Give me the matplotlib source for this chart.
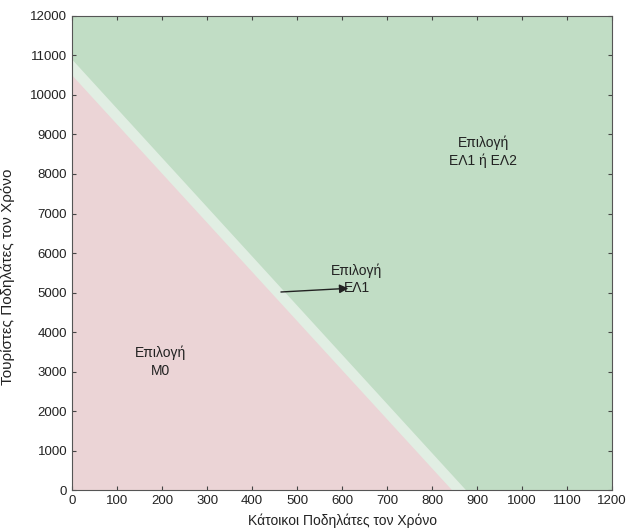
import matplotlib.pyplot as plt
import numpy as np

plt.rcParams['font.family'] = ['Liberation Sans', 'DejaVu Sans']

# boundary lines (x, y) end points
red_x = [0, 844]
red_y = [10500, 0]
green_x = [0, 875]
green_y = [10900, 0]

x_ticks = [0, 100, 200, 300, 400, 500, 600, 700, 800, 900, 1000, 1100, 1200]
y_ticks = [0, 1000, 2000, 3000, 4000, 5000, 6000, 7000, 8000, 9000, 10000, 11000, 12000]

fig = plt.figure(figsize=(6.26, 5.31), dpi=100)
ax = fig.add_axes([0.115, 0.077, 0.863, 0.893])

# green background everywhere, then light band, then red
ax.fill_between([0, 1200], 0, 12000, color='#c1ddc5', lw=0)
ax.fill_between(green_x, green_y, 0, color='#e1eee3', lw=0)
ax.fill_between(red_x, red_y, 0, color='#ebd4d6', lw=0)

ax.annotate('', xy=(620, 5110), xytext=(458, 5010),
            arrowprops=dict(arrowstyle='-|>', color='#222222', lw=1.0, mutation_scale=13))
ax.text(633, 5330, 'Επιλογή\nΕΛ1', ha='center', va='center', fontsize=10, linespacing=1.3, color='#222222')
ax.text(196, 3250, 'Επιλογή\nΜ0', ha='center', va='center', fontsize=10, linespacing=1.3, color='#222222')
ax.text(913, 8560, 'Επιλογή\nΕΛ1 ή ΕΛ2', ha='center', va='center', fontsize=10, linespacing=1.3, color='#222222')

ax.set_xlim(0, 1200)
ax.set_ylim(0, 12000)
ax.set_xticks(x_ticks)
ax.set_yticks(y_ticks)
ax.tick_params(direction='in', top=True, right=True, labelsize=9.5, length=3, colors='#444444', labelcolor='#222222')
for s in ax.spines.values():
    s.set_color('#555555')
ax.set_xlabel('Κάτοικοι Ποδηλάτες τον Χρόνο', fontsize=10, labelpad=5, color='#222222')
ax.set_ylabel('Τουρίστες Ποδηλάτες τον Χρόνο', fontsize=11, color='#222222')
ax.yaxis.set_label_coords(-0.105, 0.45)

fig.savefig('out.png', dpi=100)
